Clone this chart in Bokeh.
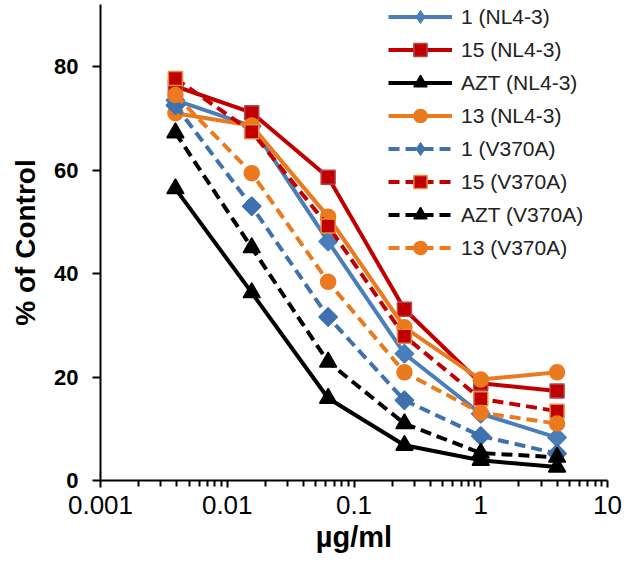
import math
from bokeh.plotting import figure
from bokeh.models import Range1d, FixedTicker, CustomJSTickFormatter, Legend, LegendItem
from bokeh.embed import file_html
from bokeh.resources import INLINE

# ---- data ----
conc = [0.0039, 0.0156, 0.0625, 0.25, 1, 4]
c1_nl = [73.5, 68.5, 46.2, 24.5, 12.9, 8.3]
c15_nl = [76.2, 71.1, 58.6, 33.1, 18.8, 17.3]
azt_nl = [56.4, 36.3, 15.9, 6.8, 3.9, 2.6]
c13_nl = [71.0, 68.6, 51.0, 29.6, 19.5, 20.9]
c1_v = [72.5, 53.0, 31.6, 15.5, 8.6, 5.2]
c15_v = [77.7, 67.4, 49.2, 27.9, 15.8, 13.4]
azt_v = [67.2, 45.0, 22.9, 11.0, 5.3, 4.5]
c13_v = [74.5, 59.4, 38.4, 20.9, 13.1, 11.0]

series_names = ["1 (NL4-3)", "15 (NL4-3)", "AZT (NL4-3)", "13 (NL4-3)",
                "1 (V370A)", "15 (V370A)", "AZT (V370A)", "13 (V370A)"]
series_values = [c1_nl, c15_nl, azt_nl, c13_nl, c1_v, c15_v, azt_v, c13_v]

x_ticks = [0.001, 0.01, 0.1, 1, 10]
x_tick_labels = ["0.001", "0.01", "0.1", "1", "10"]
y_ticks = [0, 20, 40, 60, 80]

# ---- styles ----
BLUE = "#4A7EBB"
BLUE_D = "#3F71AE"
RED = "#C00000"
ORANGE = "#EB7A1E"
BLACK = "#000000"
DASH = "11 6"
styles = [
    dict(color=BLUE, dash="solid", marker="square", angle=math.pi / 4, size=13, fill=BLUE, line=BLUE),
    dict(color=RED, dash="solid", marker="square", angle=0, size=14, fill=RED, line="#B0474F"),
    dict(color=BLACK, dash="solid", marker="triangle", angle=0, size=17, fill=BLACK, line=BLACK),
    dict(color=ORANGE, dash="solid", marker="circle", angle=0, size=15, fill=ORANGE, line=ORANGE),
    dict(color=BLUE_D, dash=DASH, marker="square", angle=math.pi / 4, size=13, fill=BLUE_D, line=BLUE_D),
    dict(color=RED, dash=DASH, marker="square", angle=0, size=14, fill=RED, line="#E98A3A"),
    dict(color=BLACK, dash=DASH, marker="triangle", angle=0, size=17, fill=BLACK, line=BLACK),
    dict(color=ORANGE, dash=DASH, marker="circle", angle=0, size=15, fill=ORANGE, line=ORANGE),
]

FONT = "Liberation Sans"

p = figure(width=629, height=570, x_axis_type="log",
           x_range=Range1d(0.001, 10), y_range=Range1d(0, 92.0),
           output_backend="svg", toolbar_location=None,
           min_border_left=100, min_border_right=22, min_border_top=4, min_border_bottom=90)
p.outline_line_color = None
p.xgrid.visible = False
p.ygrid.visible = False
p.background_fill_color = "white"

items = []
for name, vals, st in zip(series_names, series_values, styles):
    r1 = p.line(conc, vals, line_color=st["color"], line_width=4, line_dash=st["dash"])
    if st["angle"] != 0:
        # diamond underneath the rotated square: it stays hidden in the plot
        # and gives the legend a diamond (the legend ignores marker rotation)
        r_leg = p.scatter(conc, vals, marker="diamond", size=18,
                          fill_color=st["fill"], line_color=st["line"], line_width=1)
        p.scatter(conc, vals, marker=st["marker"], size=st["size"], angle=st["angle"],
                  fill_color=st["fill"], line_color=st["line"], line_width=1.5)
        items.append(LegendItem(label=name, renderers=[r1, r_leg]))
    else:
        r2 = p.scatter(conc, vals, marker=st["marker"], size=st["size"],
                       fill_color=st["fill"], line_color=st["line"], line_width=1.5)
        items.append(LegendItem(label=name, renderers=[r1, r2]))

legend = Legend(items=items, location=(288, 216), padding=0, margin=0, spacing=0,
                glyph_width=64, glyph_height=33, label_height=33, label_standoff=9,
                label_text_font=FONT, label_text_font_size="21px", label_text_color="#222222",
                border_line_color=None, background_fill_alpha=0)
p.add_layout(legend, "center")

# axes
p.xaxis.ticker = FixedTicker(ticks=x_ticks,
                             minor_ticks=[m * 10 ** e for e in range(-3, 1) for m in range(2, 10)])
p.xaxis.formatter = CustomJSTickFormatter(args=dict(vals=x_ticks, labels=x_tick_labels),
                                          code="const i = vals.indexOf(tick); return i >= 0 ? labels[i] : String(tick);")
p.yaxis.ticker = FixedTicker(ticks=y_ticks)

for ax in (p.xaxis, p.yaxis):
    ax.axis_line_color = "black"
    ax.axis_line_width = 2
    ax.major_tick_line_color = "black"
    ax.major_tick_line_width = 2
    ax.minor_tick_line_color = "black"
    ax.minor_tick_line_width = 2
    ax.major_tick_in = 0
    ax.minor_tick_in = 0
    ax.major_label_text_font = FONT
    ax.axis_label_text_font = FONT
    ax.axis_label_text_font_style = "bold"
    ax.major_label_text_color = "black"
    ax.axis_label_text_color = "black"

p.xaxis.major_tick_out = 7
p.xaxis.minor_tick_out = 6
p.xaxis.major_label_text_font_size = "26px"
p.xaxis.major_label_standoff = 8
p.xaxis.axis_label = "µg/ml"
p.xaxis.axis_label_text_font_size = "29px"
p.xaxis.axis_label_standoff = 4

p.yaxis.major_tick_out = 8
p.yaxis.minor_tick_out = 0
p.yaxis.major_label_text_font_size = "22px"
p.yaxis.major_label_text_font_style = "bold"
p.yaxis.major_label_standoff = 14
p.yaxis.axis_label = "% of Control"
p.yaxis.axis_label_text_font_size = "28px"
p.yaxis.axis_label_standoff = 10

open("out.html", "w").write(file_html(p, INLINE))
